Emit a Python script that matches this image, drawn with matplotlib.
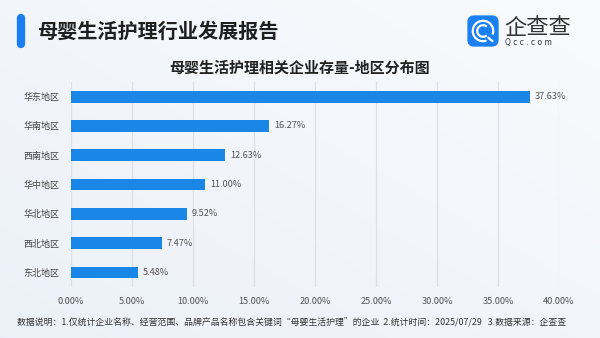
import numpy as np
import matplotlib
matplotlib.use("Agg")
import matplotlib.pyplot as plt
from matplotlib.patches import FancyBboxPatch, Arc
from matplotlib.lines import Line2D

plt.rcParams["font.family"] = ["Noto Sans CJK SC", "DejaVu Sans"]

# 地区分布数据
regions = ["华东地区", "华南地区", "西南地区", "华中地区", "华北地区", "西北地区", "东北地区"]
shares = [37.63, 16.27, 12.63, 11.00, 9.52, 7.47, 5.48]
x_ticks = [0, 5, 10, 15, 20, 25, 30, 35, 40]

title = "母婴生活护理行业发展报告"
subtitle = "母婴生活护理相关企业存量-地区分布图"
footer = ("数据说明：1.仅统计企业名称、经营范围、品牌产品名称包含关键词“母婴生活护理”的企业  "
          "2.统计时间：2025/07/29   3.数据来源：企查查")

W, H = 600, 338
fig = plt.figure(figsize=(6, 3.38), dpi=100)


def fx(px):
    return px / W


def fy(py):
    return 1 - py / H


# 背景渐变
bg = fig.add_axes([0, 0, 1, 1], zorder=-10)
gx, gy = np.meshgrid(np.linspace(0, 1, 200), np.linspace(0, 1, 120))
g = 0.5 * gx + 0.5 * (1 - gy)
c0 = np.array([0.925, 0.945, 0.975])
c1 = np.array([0.975, 0.98, 0.99])
img = c0[None, None, :] * (1 - g[..., None]) + c1[None, None, :] * g[..., None]
bg.imshow(img, aspect="auto", extent=[0, 1, 0, 1], origin="upper")
bg.set_axis_off()

# 标题
fig.add_artist(Line2D([fx(21), fx(21)], [fy(18), fy(44)], color="#1a7ff0",
                      lw=6, solid_capstyle="round"))
fig.text(fx(37), fy(31), title, fontsize=14.5, fontweight="heavy", color="#1f1f1f",
         va="center", ha="left")
fig.text(0.5, fy(68), subtitle, fontsize=10.8, fontweight="bold", color="#222222",
         va="center", ha="center")

# logo
lax = fig.add_axes([fx(466), fy(48), fx(34), 34 / H])
lax.set_xlim(0, 1)
lax.set_ylim(0, 1)
lax.set_axis_off()
lax.add_patch(FancyBboxPatch((0.04, 0.04), 0.92, 0.92, boxstyle="round,pad=0,rounding_size=0.2",
                             fc="#1b80f2", ec="none"))
lax.add_patch(Arc((0.5, 0.5), 0.6, 0.6, theta1=-20, theta2=290, color="white", lw=1.6))
lax.add_patch(Arc((0.5, 0.5), 0.34, 0.34, theta1=50, theta2=310, color="white", lw=1.6))
lax.plot([0.66, 0.78], [0.3, 0.2], color="white", lw=1.6, solid_capstyle="round")
fig.text(fx(504), fy(28), "企查查", fontsize=16, color="#333333", va="center", ha="left")
fig.text(fx(505), fy(43), "Q c c . c o m", fontsize=5.5, color="#333333", va="center",
         ha="left", family="DejaVu Sans")

# 主图
ax = fig.add_axes([fx(71), fy(287), fx(559 - 71), (287 - 82) / H])
ax.patch.set_alpha(0)
y = np.arange(len(regions))
ax.barh(y, shares, height=0.4, color="#1a86e6", zorder=3)
for yi, v in zip(y, shares):
    ax.text(v + 0.4, yi, f"{v:.2f}%", fontsize=6.6, color="#555555", va="center", ha="left")
ax.set_ylim(len(regions) - 0.5, -0.5)
ax.set_xlim(0, 40)
ax.set_yticks(y)
ax.set_yticklabels(regions, fontsize=6.5, color="#444444")
ax.set_xticks(x_ticks)
ax.set_xticklabels([f"{t:.2f}%" for t in x_ticks], fontsize=6.6, color="#555555")
ax.tick_params(length=0)
ax.tick_params(axis="y", pad=8)
ax.tick_params(axis="x", pad=7)
ax.grid(axis="x", color="#dde1e7", lw=0.9, zorder=0)
for s in ax.spines.values():
    s.set_visible(False)

fig.text(fx(17), fy(323), footer, fontsize=6.4, color="#333333", va="center", ha="left")

fig.savefig("out.png", dpi=100)
